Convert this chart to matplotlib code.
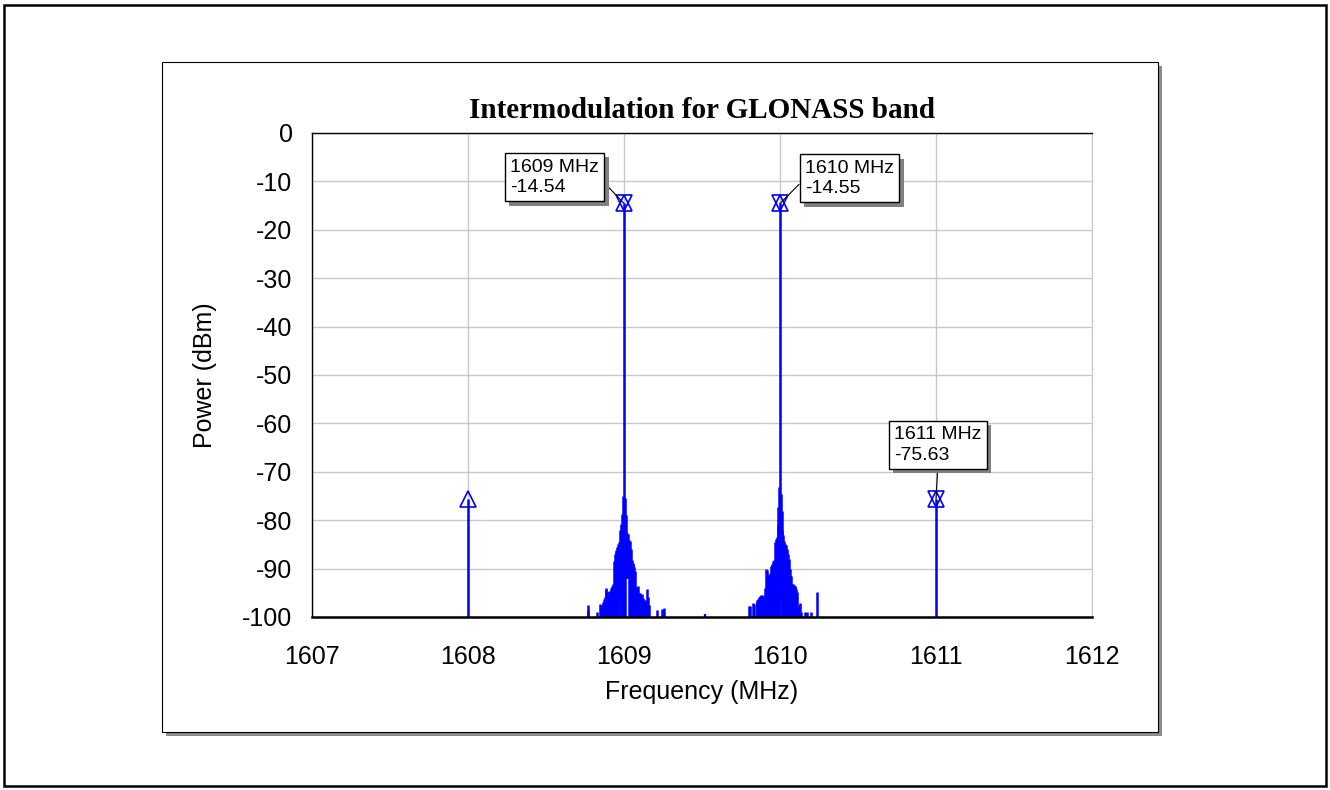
import matplotlib
matplotlib.use("Agg")
import matplotlib.pyplot as plt
from matplotlib.patches import Rectangle
import matplotlib.patheffects as pe

# main tones and intermod products
tone_freq = [1609.0, 1610.0]
tone_power = [-14.54, -14.55]
im_freq = [1608.0, 1611.0]
im_power = [-75.6, -75.63]

# phase-noise skirt around 1609 MHz
skirt1_freq = [1608.767, 1608.770, 1608.825, 1608.845, 1608.850, 1608.858, 1608.864,
               1608.870, 1608.876, 1608.882, 1608.887, 1608.893, 1608.898, 1608.904,
               1608.910, 1608.916, 1608.922, 1608.928, 1608.934, 1608.940, 1608.946,
               1608.951, 1608.956, 1608.961, 1608.966, 1608.972, 1608.977, 1608.982,
               1608.987, 1608.993, 1609.005, 1609.010, 1609.015, 1609.020, 1609.026,
               1609.032, 1609.038, 1609.044, 1609.049, 1609.055, 1609.060, 1609.066,
               1609.072, 1609.078, 1609.084, 1609.090, 1609.096, 1609.102, 1609.108,
               1609.114, 1609.120, 1609.128, 1609.134, 1609.140, 1609.147, 1609.152,
               1609.158, 1609.214, 1609.246, 1609.256]
skirt1_peak = [-97.5, -98.5, -99.0, -97.3, -97.5, -98.0, -97.0,
               -96.2, -95.8, -94.5, -94.1, -95.5, -94.8, -94.6,
               -94.9, -94.0, -93.6, -93.2, -88.5, -86.9, -86.5,
               -86.2, -85.5, -84.9, -84.5, -84.2, -82.0, -80.8,
               -78.7, -75.0, -75.5, -79.0, -82.5, -82.6, -82.8,
               -84.0, -84.2, -86.0, -88.3, -88.8, -89.0, -89.7,
               -90.5, -93.8, -93.8, -93.5, -95.0, -95.1, -95.5,
               -95.3, -96.0, -96.5, -96.5, -97.0, -94.3, -95.8,
               -97.5, -98.6, -98.4, -98.2]
skirt1_floor = [-100, -100, -100, -100, -100, -100, -100,
                -100, -100, -100, -100, -100, -100, -100,
                -100, -100, -100, -100, -100, -100, -100,
                -100, -100, -100, -100, -96, -96, -100,
                -100, -100, -100, -92, -92, -92, -92,
                -100, -100, -100, -100, -100, -100, -100,
                -100, -100, -100, -100, -100, -100, -100,
                -100, -100, -100, -100, -100, -100, -100,
                -100, -100, -100, -100]

# phase-noise skirt around 1610 MHz
skirt2_freq = [1609.800, 1609.805, 1609.827, 1609.832, 1609.850, 1609.855, 1609.860,
               1609.866, 1609.872, 1609.877, 1609.883, 1609.889, 1609.895, 1609.901,
               1609.906, 1609.911, 1609.916, 1609.922, 1609.928, 1609.934, 1609.940,
               1609.946, 1609.952, 1609.958, 1609.963, 1609.968, 1609.973, 1609.979,
               1609.985, 1609.990, 1609.995, 1610.005, 1610.010, 1610.016, 1610.022,
               1610.028, 1610.034, 1610.040, 1610.046, 1610.052, 1610.058, 1610.064,
               1610.070, 1610.075, 1610.081, 1610.087, 1610.093, 1610.099, 1610.105,
               1610.111, 1610.117, 1610.123, 1610.129, 1610.135, 1610.160, 1610.175,
               1610.199, 1610.237]
skirt2_peak = [-97.7, -97.7, -97.2, -97.4, -97.0, -96.5, -96.2,
               -95.9, -95.7, -95.5, -95.5, -95.8, -95.6, -95.8,
               -94.0, -90.0, -90.2, -91.4, -91.4, -91.0, -89.5,
               -89.0, -89.0, -88.5, -88.3, -84.5, -83.8, -83.5,
               -81.0, -77.3, -73.2, -74.6, -78.0, -82.1, -83.0,
               -84.2, -85.0, -85.2, -86.0, -86.9, -88.0, -90.0,
               -91.5, -93.1, -93.2, -93.4, -93.6, -93.8, -94.3,
               -94.8, -97.9, -97.5, -97.1, -98.9, -98.9, -98.9,
               -98.9, -94.8]
skirt2_floor = [-100] * 29 + [-100, -96.5, -96.5, -95] + [-100] * 25

# stray point near 1609.5
stray_freq = [1609.52]
stray_power = [-99.4]

# marker readouts
mark_freq = [1609.0, 1610.0, 1611.0]
mark_power = [-14.54, -14.55, -75.63]
mark_text = ["1609 MHz\n-14.54", "1610 MHz\n-14.55", "1611 MHz\n-75.63"]

xticks = [1607, 1608, 1609, 1610, 1611, 1612]
yticks = [0, -10, -20, -30, -40, -50, -60, -70, -80, -90, -100]

BLUE = "#0000FF"
plt.rcParams['font.family'] = ['Liberation Sans', 'DejaVu Sans']
plt.rcParams['axes.unicode_minus'] = False

fig = plt.figure(figsize=(13.3, 7.9), dpi=100)
W, H = 1330.0, 790.0

# outer frame
fig.add_artist(Rectangle((4 / W, 4 / H), 1322 / W, 781 / H, transform=fig.transFigure,
                         fill=False, ec="black", lw=1.8, zorder=0))
# inner panel with shadow
fig.add_artist(Rectangle((166 / W, 54 / H), 996 / W, 670 / H, transform=fig.transFigure,
                         fc="#8c8c8c", ec="none", zorder=0.2))
fig.add_artist(Rectangle((162 / W, 58 / H), 996 / W, 670 / H, transform=fig.transFigure,
                         fc="white", ec="black", lw=0.8, zorder=0.4))

ax = fig.add_axes([312 / W, 173 / H, 780 / W, 484 / H])
ax.set_zorder(2)

ax.vlines(skirt1_freq, skirt1_floor, skirt1_peak, color=BLUE, lw=1.8)
ax.vlines(skirt2_freq, skirt2_floor, skirt2_peak, color=BLUE, lw=1.8)
ax.vlines(stray_freq, -100, stray_power, color=BLUE, lw=1.6)
ax.vlines(tone_freq, -100, tone_power, color=BLUE, lw=1.8)
ax.vlines(im_freq, -100, im_power, color=BLUE, lw=1.8)

# markers: up triangle on 1608, star (up+down) on the readout markers
ax.plot([im_freq[0]], [im_power[0]], ls="none", marker="^", ms=11, mfc="none",
        mec=BLUE, mew=1.2, clip_on=False)
ax.plot(mark_freq, mark_power, ls="none", marker="^", ms=11, mfc="none",
        mec=BLUE, mew=1.2, clip_on=False)
ax.plot(mark_freq, mark_power, ls="none", marker="v", ms=11, mfc="none",
        mec=BLUE, mew=1.2, clip_on=False)

offsets = [(-25, 26), (25, 25), (2, 54)]
aligns = [("right", "center", (1, 0.5)), ("left", "center", (0, 0.5)),
          ("center", "center", (0.5, 0))]
for f, p, t, off, al in zip(mark_freq, mark_power, mark_text, offsets, aligns):
    ann = ax.annotate(t, xy=(f, p), xytext=off, textcoords="offset pixels",
                      ha=al[0], va=al[1], multialignment="left", fontsize=14,
                      linespacing=1.25,
                      bbox=dict(boxstyle="square,pad=0.28", fc="white", ec="black", lw=1),
                      arrowprops=dict(arrowstyle="-", color="black", lw=0.8,
                                      shrinkA=0, shrinkB=0, relpos=al[2]),
                      zorder=5)
    ann.get_bbox_patch().set_path_effects(
        [pe.withSimplePatchShadow(offset=(3, -3), shadow_rgbFace="#808080", alpha=1)])

ax.set_xlim(1607, 1612)
ax.set_ylim(-100, 0)
ax.set_xticks(xticks)
ax.set_yticks(yticks)
ax.set_xticklabels([str(v) for v in xticks])
ax.grid(True, color="#c8c8c8", lw=1)
ax.set_axisbelow(True)
ax.tick_params(length=0, labelsize=18)
ax.tick_params(axis="x", pad=20)
ax.tick_params(axis="y", pad=14)

for s in ["left", "top"]:
    ax.spines[s].set_color("black")
    ax.spines[s].set_linewidth(1)
ax.spines["bottom"].set_linewidth(1.8)
ax.spines["right"].set_color("#c8c8c8")

ax.set_xlabel("Frequency (MHz)", fontsize=18, labelpad=8)
ax.set_ylabel("Power (dBm)", fontsize=18, labelpad=18)
ax.set_title("Intermodulation for GLONASS band", fontsize=21, fontweight="bold",
             family=["Liberation Serif", "DejaVu Serif"], pad=11)

fig.savefig("out.png", dpi=100)
